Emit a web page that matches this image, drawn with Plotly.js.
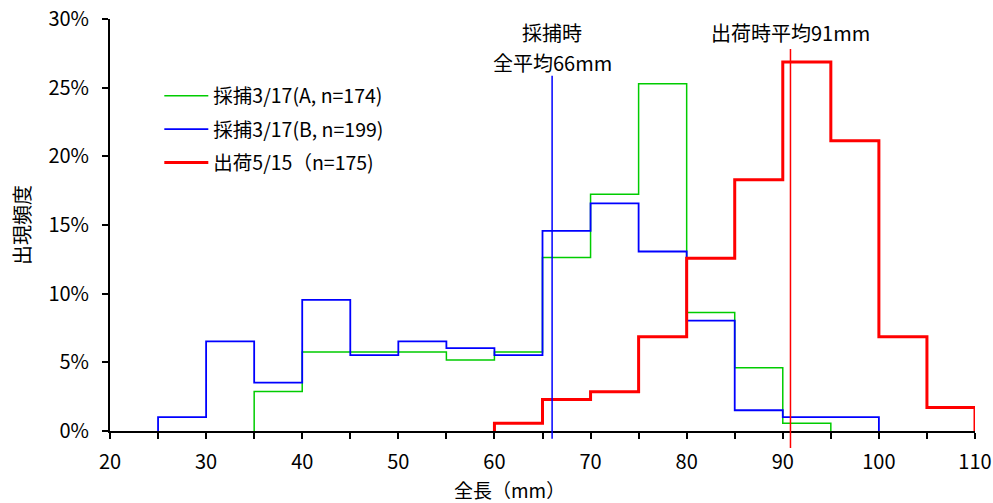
<!DOCTYPE html>
<html>
<head>
<meta charset="utf-8">
<script src="https://cdn.plot.ly/plotly-3.0.1.min.js"></script>
<style>
html,body{margin:0;padding:0;background:#fff;}
#chart{width:993px;height:503px;}
</style>
</head>
<body>
<div id="chart"></div>
<script>
// Bin starts (mm, bin width 5) and relative frequencies
const binWidth = 5;
const binsA = [35, 40, 45, 50, 55, 60, 65, 70, 75, 80, 85, 90];
const freqA = [0.0287, 0.0575, 0.0575, 0.0575, 0.0517, 0.0575, 0.1264, 0.1724, 0.2529, 0.0862, 0.0460, 0.0057];
const binsB = [25, 30, 35, 40, 45, 50, 55, 60, 65, 70, 75, 80, 85, 90, 95];
const freqB = [0.0101, 0.0653, 0.0352, 0.0955, 0.0553, 0.0653, 0.0603, 0.0553, 0.1457, 0.1658, 0.1307, 0.0804, 0.0151, 0.0101, 0.0101];
const binsS = [60, 65, 70, 75, 80, 85, 90, 95, 100, 105];
const freqS = [0.0057, 0.0229, 0.0286, 0.0686, 0.1257, 0.1829, 0.2686, 0.2114, 0.0686, 0.0171];

const nameA = "採捕3/17(A, n=174)";
const nameB = "採捕3/17(B, n=199)";
const nameS = "出荷5/15（n=175)";

const meanCatch = 66;
const meanShip = 90.8;
const labelCatch1 = "採捕時";
const labelCatch2 = "全平均66mm";
const labelShip = "出荷時平均91mm";

const xTitle = "全長（mm）";
const yTitle = "出現頻度";

function stepXY(bins, freq) {
  const x = [bins[0]];
  const y = [0];
  for (let i = 0; i < bins.length; i++) { x.push(bins[i]); y.push(freq[i]); }
  x.push(bins[bins.length - 1] + binWidth); y.push(0);
  return {x, y};
}

const font = "'Noto Sans CJK JP', 'Noto Sans', sans-serif";
const sA = stepXY(binsA, freqA), sB = stepXY(binsB, freqB), sS = stepXY(binsS, freqS);

const traces = [
  {x: sA.x, y: sA.y, name: nameA, legendgroup: 'a', type: 'scatter', mode: 'lines', line: {shape: 'hv', color: '#00CC00', width: 1.5}},
  {x: sB.x, y: sB.y, name: nameB, legendgroup: 'b', type: 'scatter', mode: 'lines', line: {shape: 'hv', color: '#0000FF', width: 1.8}},
  {x: sS.x, y: sS.y, name: nameS, legendgroup: 'c', type: 'scatter', mode: 'lines', line: {shape: 'hv', color: '#FF0000', width: 3}}
];

const layout = {
  width: 993, height: 503,
  margin: {l: 110, r: 18, t: 19, b: 72},
  paper_bgcolor: '#fff', plot_bgcolor: '#fff',
  font: {family: font, size: 19, color: '#000'},
  showlegend: true,
  legend: {x: 0.057, y: 0.86, xanchor: 'left', yanchor: 'top', bgcolor: 'rgba(0,0,0,0)',
           font: {family: font, size: 19.5, color: '#000'}, traceorder: 'grouped', tracegroupgap: 5, itemwidth: 44},
  xaxis: {
    range: [20, 110], dtick: 10, tick0: 20,
    showgrid: false, zeroline: false,
    showline: true, linecolor: '#000', linewidth: 2,
    ticks: 'outside', ticklen: 6, tickwidth: 2, tickcolor: '#000',
    minor: {dtick: 5, tick0: 20, ticks: 'outside', ticklen: 6, tickwidth: 2, tickcolor: '#000', showgrid: false},
    tickfont: {family: font, size: 20, color: '#000'},
    ticklabelstandoff: 6
  },
  yaxis: {
    range: [0, 0.30], dtick: 0.05, tickformat: '.0%',
    showgrid: false, zeroline: false,
    showline: true, linecolor: '#000', linewidth: 2,
    ticks: 'outside', ticklen: 6, tickwidth: 2, tickcolor: '#000',
    tickfont: {family: font, size: 20, color: '#000'},
    ticklabelstandoff: 9,
    title: {text: yTitle, font: {family: font, size: 20, color: '#000'}, standoff: 12}
  },
  shapes: [
    {type: 'line', xref: 'x', yref: 'paper', x0: meanCatch, x1: meanCatch, y0: -0.019, y1: 0.862,
     line: {color: '#0000FF', width: 1.5}},
    {type: 'line', xref: 'x', yref: 'paper', x0: meanShip, x1: meanShip, y0: -0.041, y1: 0.927,
     line: {color: '#FF0000', width: 1.5}}
  ],
  annotations: [
    {xref: 'x', yref: 'paper', x: meanCatch, y: 0.968, text: labelCatch1, showarrow: false,
     xanchor: 'center', yanchor: 'middle', font: {family: font, size: 20, color: '#000'}},
    {xref: 'x', yref: 'paper', x: meanCatch, y: 0.894, text: labelCatch2, showarrow: false,
     xanchor: 'center', yanchor: 'middle', font: {family: font, size: 20, color: '#000'}},
    {xref: 'x', yref: 'paper', x: meanShip, y: 0.968, text: labelShip, showarrow: false,
     xanchor: 'center', yanchor: 'middle', font: {family: font, size: 20, color: '#000'}},
    {xref: 'paper', yref: 'paper', x: 0.462, y: -0.143, text: xTitle, showarrow: false,
     xanchor: 'center', yanchor: 'middle', font: {family: font, size: 19, color: '#000'}}
  ]
};

Plotly.newPlot('chart', traces, layout, {displayModeBar: false, staticPlot: true});
</script>
</body>
</html>
